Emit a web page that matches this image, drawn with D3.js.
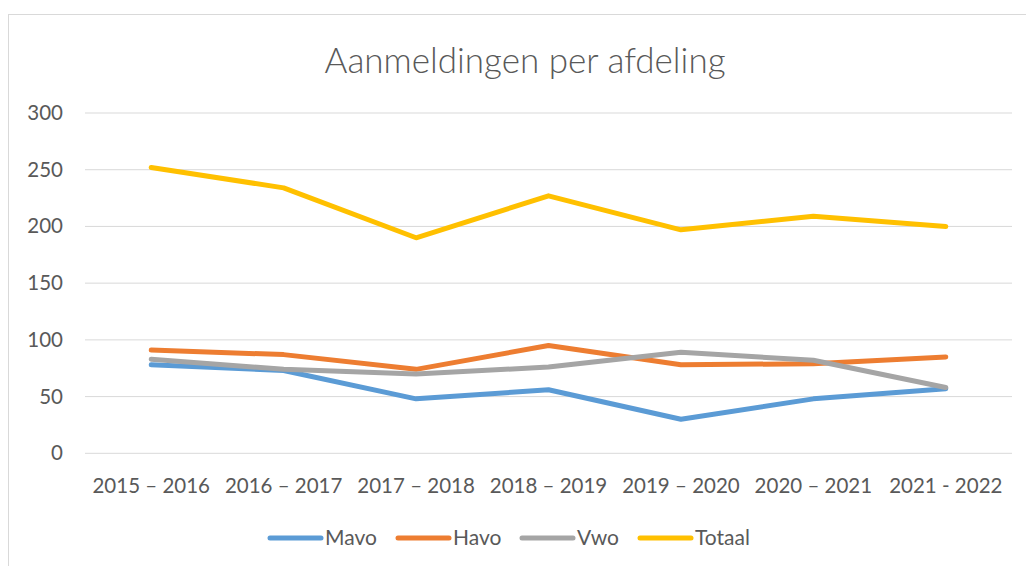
<!DOCTYPE html>
<html>
<head>
<meta charset="utf-8">
<script src="https://cdn.jsdelivr.net/npm/d3@7"></script>
<style>
  body { margin: 0; background: #fff; }
  svg text { font-family: Lato, "Open Sans", sans-serif; fill: #595959; }
</style>
</head>
<body>
<svg id="chart"></svg>
<script>
const categories = ["2015 – 2016", "2016 – 2017", "2017 – 2018", "2018 – 2019", "2019 – 2020", "2020 – 2021", "2021 - 2022"];
const mavo   = [78, 73, 48, 56, 30, 48, 57];
const havo   = [91, 87, 74, 95, 78, 79, 85];
const vwo    = [83, 74, 70, 76, 89, 82, 58];
const totaal = [252, 234, 190, 227, 197, 209, 200];
const seriesNames = ["Mavo", "Havo", "Vwo", "Totaal"];
const yTicks = [0, 50, 100, 150, 200, 250, 300];

const series = [
  {name: seriesNames[0], values: mavo,   color: "#5B9BD5"},
  {name: seriesNames[1], values: havo,   color: "#ED7D31"},
  {name: seriesNames[2], values: vwo,    color: "#A5A5A5"},
  {name: seriesNames[3], values: totaal, color: "#FFC000"}
];

const WIDTH = 1026, HEIGHT = 566;
const plot = {left: 85, right: 1012, top: 113, bottom: 453.3};

const svg = d3.select("#chart").attr("width", WIDTH).attr("height", HEIGHT);

// chart frame
svg.append("rect")
  .attr("x", 8.5).attr("y", 14.5)
  .attr("width", 1030).attr("height", 600)
  .attr("fill", "none").attr("stroke", "#d9d9d9");

const x = d3.scaleBand().domain(categories).range([plot.left, plot.right]);
const y = d3.scaleLinear().domain([0, 300]).range([plot.bottom, plot.top]);

// gridlines
svg.append("g")
  .selectAll("line")
  .data(yTicks)
  .enter()
  .append("line")
  .attr("x1", plot.left).attr("x2", plot.right)
  .attr("y1", d => y(d)).attr("y2", d => y(d))
  .attr("stroke", "#d9d9d9").attr("stroke-width", 1);

// y axis labels
const yAxis = svg.append("g")
  .attr("transform", `translate(${plot.left - 22}, 0)`)
  .call(d3.axisLeft(y).tickValues(yTicks).tickSize(0).tickPadding(0));
yAxis.select(".domain").remove();
yAxis.selectAll("text").style("font-size", "20.5px").attr("fill", "#595959");

// x axis labels
const xAxis = svg.append("g")
  .attr("transform", `translate(0, ${plot.bottom})`)
  .call(d3.axisBottom(x).tickSize(0).tickPadding(25));
xAxis.select(".domain").remove();
xAxis.selectAll("text").style("font-size", "20.5px").attr("fill", "#595959");

// lines
const line = d3.line()
  .x((d, i) => x(categories[i]) + x.bandwidth() / 2)
  .y(d => y(d));

svg.append("g")
  .selectAll("path")
  .data(series)
  .enter()
  .append("path")
  .attr("d", d => line(d.values))
  .attr("fill", "none")
  .attr("stroke", d => d.color)
  .attr("stroke-width", 5)
  .attr("stroke-linecap", "round")
  .attr("stroke-linejoin", "round");

// title
svg.append("text")
  .attr("x", 525).attr("y", 73)
  .attr("text-anchor", "middle")
  .style("font-size", "35px")
  .style("font-weight", 300)
  .text("Aanmeldingen per afdeling");

// legend
const legendX = [270, 398, 522, 640];
const legend = svg.append("g")
  .selectAll("g")
  .data(series)
  .enter()
  .append("g")
  .attr("transform", (d, i) => `translate(${legendX[i]}, 538)`);

legend.append("line")
  .attr("x1", 0).attr("x2", 51)
  .attr("stroke", d => d.color)
  .attr("stroke-width", 5)
  .attr("stroke-linecap", "round");

legend.append("text")
  .attr("x", 55).attr("y", 0)
  .attr("dy", "0.35em")
  .style("font-size", "21px")
  .text(d => d.name);
</script>
</body>
</html>
